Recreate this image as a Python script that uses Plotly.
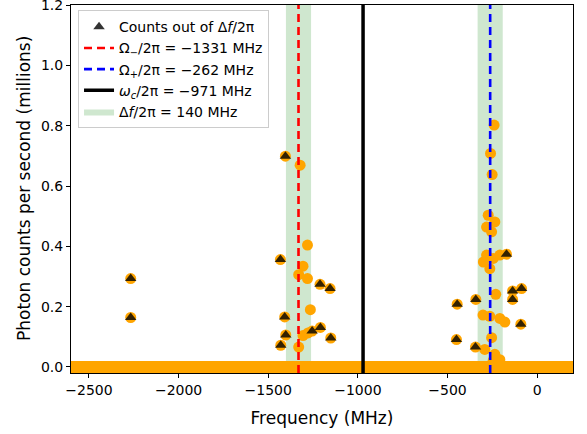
import plotly.graph_objects as go

# Points inside the detuning windows (orange circles only)
freq_in = [-1322, -1281, -1306, -1330, -1281, -1265, -1306, -1278, -1330,
           -240, -260, -251, -273, -236, -282, -254,
           -300, -282, -245, -264, -208,
           -231, -302, -264, -208, -180, -254, -292, -236, -208, -245]
counts_in = [0.669, 0.404, 0.334, 0.306, 0.293, 0.190, 0.104, 0.113, 0.066,
             0.802, 0.708, 0.638, 0.503, 0.481, 0.464, 0.448,
             0.348, 0.371, 0.360, 0.326, 0.371,
             0.241, 0.172, 0.168, 0.161, 0.149, 0.097, 0.058, 0.042, 0.024, 0.022]

# Points outside the windows (triangles, with orange circle underneath)
freq_out = [-2267, -2267, -1404, -1432, -1211, -1155, -1408, -1209, -1255, -1402, -1151, -1430,
            -171, -137, -87, -137, -342, -446, -91, -450, -344]
counts_out = [0.293, 0.164, 0.699, 0.356, 0.274, 0.260, 0.166, 0.131, 0.119, 0.106, 0.096, 0.072,
              0.374, 0.252, 0.260, 0.224, 0.224, 0.208, 0.142, 0.091, 0.066]

# Baseline scan (zero counts over the whole scan)
baseline_freq = [-2600, 200]
baseline_counts = [0, 0]

omega_minus = -1331
omega_plus = -262
omega_c = -971
delta_f = 140

x_range = [-2600, 200]
y_range = [-0.02, 1.2001]

font = "DejaVu Sans"
fig = go.Figure()

# Green windows
for i, c in enumerate([omega_minus, omega_plus]):
    l, r = c - delta_f / 2, c + delta_f / 2
    fig.add_trace(go.Scatter(
        x=[l, r, r, l, l], y=[y_range[0], y_range[0], y_range[1], y_range[1], y_range[0]],
        mode="lines", fill="toself", fillcolor="rgba(160,208,160,0.5)",
        line=dict(width=0, color="rgba(160,208,160,0.5)"),
        name="Δ<i>f</i>/2π = 140 MHz", showlegend=(i == 0), legendrank=5,
        hoverinfo="skip"))

# Orange circles, all points
fig.add_trace(go.Scatter(
    x=freq_in + freq_out, y=counts_in + counts_out, mode="markers",
    marker=dict(symbol="circle", size=11, color="#FFA500", line=dict(width=0)),
    showlegend=False))

# Baseline
fig.add_trace(go.Scatter(
    x=baseline_freq, y=baseline_counts, mode="lines",
    line=dict(color="#FFA500", width=12), showlegend=False))

# Triangles
fig.add_trace(go.Scatter(
    x=freq_out, y=counts_out, mode="markers",
    marker=dict(symbol="triangle-up", size=10, color="rgba(0,0,0,0.8)", line=dict(width=0)),
    name="Counts out of Δ<i>f</i>/2π", legendrank=1))

# Vertical lines
fig.add_trace(go.Scatter(
    x=[omega_minus, omega_minus], y=y_range, mode="lines",
    line=dict(color="red", width=2.6, dash="8px,5px"),
    name="Ω<sub>−</sub>/2π = −1331 MHz", legendrank=2))
fig.add_trace(go.Scatter(
    x=[omega_plus, omega_plus], y=y_range, mode="lines",
    line=dict(color="blue", width=2.6, dash="8px,5px"),
    name="Ω<sub>+</sub>/2π = −262 MHz", legendrank=3))
fig.add_trace(go.Scatter(
    x=[omega_c, omega_c], y=y_range, mode="lines",
    line=dict(color="black", width=3.5),
    name="<i>ω<sub>c</sub></i>/2π = −971 MHz", legendrank=4))

axis_common = dict(
    showline=True, linecolor="black", linewidth=1, mirror=True,
    ticks="outside", ticklen=4, tickwidth=1, tickcolor="black",
    showgrid=False, zeroline=False, automargin=False,
    ticklabeloverflow="allow",
    tickfont=dict(family=font, size=14, color="black"),
)

fig.update_layout(
    width=587, height=434,
    margin=dict(l=71, r=14, t=5, b=61),
    plot_bgcolor="white", paper_bgcolor="white",
    font=dict(family=font, size=14, color="black"),
    xaxis=dict(range=x_range, tickvals=[-2500, -2000, -1500, -1000, -500, 0],
               title=dict(text="Frequency (MHz)", font=dict(family=font, size=17)),
               **axis_common),
    yaxis=dict(range=y_range, tickvals=[0, 0.2, 0.4, 0.6, 0.8, 1.0, 1.2], tickformat=".1f",
               **axis_common),
    annotations=[dict(text="Photon counts per second (millions)", textangle=-90,
                      xref="paper", yref="paper", x=(24 - 71) / 502, y=0.5,
                      xanchor="center", yanchor="middle", showarrow=False,
                      font=dict(family=font, size=17, color="black"))],
    legend=dict(x=0.014, y=0.986, xanchor="left", yanchor="top",
                bgcolor="rgba(255,255,255,0.85)", bordercolor="#cccccc", borderwidth=1,
                font=dict(family=font, size=14), tracegroupgap=0, itemwidth=30),
    showlegend=True,
)

fig.write_html("out.html", config={"displayModeBar": False},
               post_script="document.body.style.margin='0';document.body.style.overflow='hidden';")
